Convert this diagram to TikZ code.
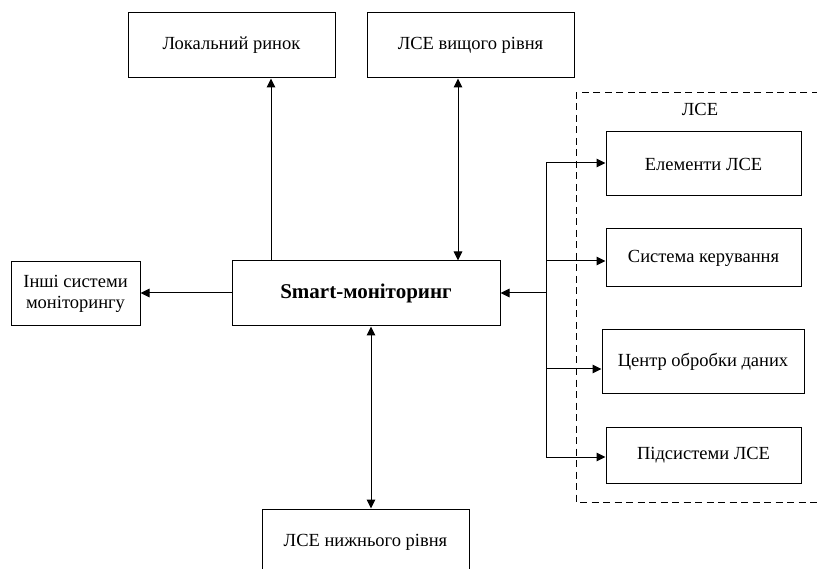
\documentclass[tikz,border=0pt]{standalone}
\usepackage{fontspec}
\setmainfont{Liberation Serif}
\usetikzlibrary{arrows.meta}
\begin{document}
\begin{tikzpicture}[x=1pt,y=-1pt,
  box/.style={draw,line width=1pt,rectangle,inner sep=0pt,align=center,font=\fontsize{18.5}{21}\selectfont},
  conn/.style={line width=1pt},
  tip/.style={-{Triangle[length=9pt,width=8.5pt]}},
  tips/.style={{Triangle[length=9pt,width=8.5pt]}-{Triangle[length=9pt,width=8.5pt]}},
  grp/.style={draw,line width=1pt,dash pattern=on 7pt off 4.5pt}
]
\useasboundingbox (0,0) rectangle (817,569);
% group
\draw[grp] (830,93) -- (576,93) -- (576,502) -- (830,502);
\node[font=\fontsize{18.5}{21}\selectfont] (glbl) at (700,109) {ЛСЕ};
% nodes
\node[box,minimum width=207pt,minimum height=65pt] (lr) at (231.5,45.5) {Локальний ринок};
\node[box,minimum width=207pt,minimum height=65pt] (lv) at (470.5,45.5) {ЛСЕ вищого рівня};
\node[box,minimum width=268pt,minimum height=65pt,font=\fontsize{21}{25}\selectfont\bfseries] (sm) at (366,293.5) {Smart-моніторинг};
\node[box,minimum width=129pt,minimum height=64pt] (oth) at (75.5,294) {Інші системи\\моніторингу};
\node[box,minimum width=207pt,minimum height=66pt] (ln) at (365.5,542) {ЛСЕ нижнього рівня};
\node[box,minimum width=195pt,minimum height=64pt] (el) at (703.5,164) {Елементи ЛСЕ};
\node[box,minimum width=195pt,minimum height=58pt] (sk) at (703.5,258) {Система керування};
\node[box,minimum width=202pt,minimum height=64pt] (cd) at (703,362) {Центр обробки даних};
\node[box,minimum width=195pt,minimum height=56pt] (ps) at (703.5,455) {Підсистеми ЛСЕ};
% connectors
\draw[conn,tip] (sm.north -| 271,0) -- (lr.south -| 271,0);
\draw[conn,tips] (sm.north -| 458,0) -- (lv.south -| 458,0);
\draw[conn,tip] (sm.west |- 0,293) -- (oth.east |- 0,293);
\draw[conn,tips] (sm.south -| 371,0) -- (ln.north -| 371,0);
\coordinate (b1) at (546,163);
\coordinate (b2) at (546,261);
\coordinate (b3) at (546,369);
\coordinate (b4) at (546,457);
\coordinate (bm) at (546,293);
\draw[conn] (b1) -- (b4);
\draw[conn,tip] (bm) -- (sm.east |- bm);
\draw[conn,tip] (b1) -- (el.west |- b1);
\draw[conn,tip] (b2) -- (sk.west |- b2);
\draw[conn,tip] (b3) -- (cd.west |- b3);
\draw[conn,tip] (b4) -- (ps.west |- b4);
\end{tikzpicture}
\end{document}
